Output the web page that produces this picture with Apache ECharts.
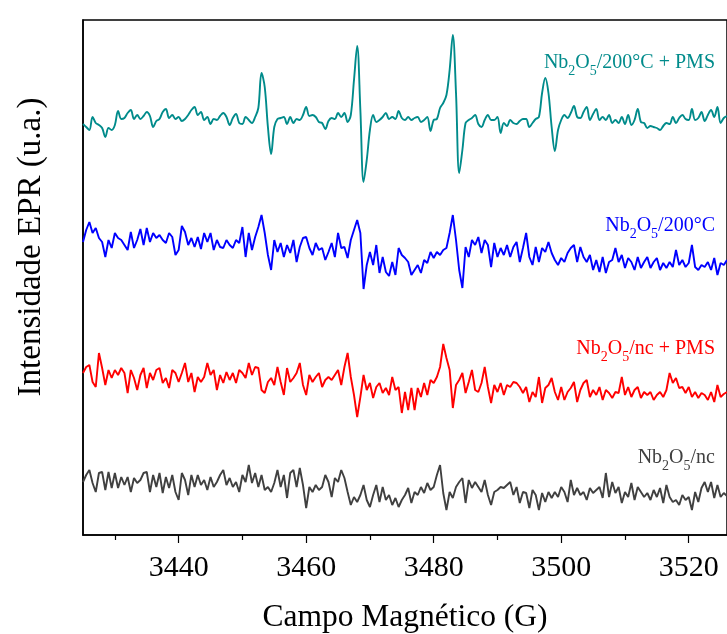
<!DOCTYPE html>
<html>
<head>
<meta charset="utf-8">
<script src="https://cdn.jsdelivr.net/npm/echarts@6/dist/echarts.min.js"></script>
<style>
  html, body { margin: 0; padding: 0; background: #fff; }
  #chart { width: 727px; height: 634px; }
</style>
</head>
<body>
<div id="chart"></div>
<script>
// campo magnético (G): primeiro ponto e passo
const fieldStart = 3425;
const fieldStep = 0.5;

const majorTicks = [3440, 3460, 3480, 3500, 3520];
const minorTicks = [3430, 3450, 3470, 3490, 3510];

// deslocamento vertical de cada espectro (u.a.)
const traceOffsets = [415, 295, 163, 57];
const traceColors = ['#008b8b', '#0000ff', '#ff0000', '#404040'];

// Nb2O5/200°C + PMS
const tealSignal = [
  -4, -7, -10, 3, -3, -5, -8, -17, -8, -10,
  -5, 9, 1, 2, 7, 10, 1, 5, 1, 4,
  8, 4, -7, -1, 1, 8, 11, 2, 5, 1,
  3, -1, 1, 5, 10, 13, 5, 8, 0, 3,
  -4, 1, 0, 4, 7, 3, -5, 2, 6, -3,
  -4, 3, 0, -3, 3, 12, 47, 33, -7, -34,
  -7, 1, 2, 3, -4, 3, -3, 1, 0, 5,
  13, 4, 5, 3, -2, -3, -9, -1, 2, 1,
  7, 3, 7, -2, 5, 40, 74, 10, -62, -40,
  -10, 5, -2, 0, 3, 7, 1, 3, 1, 9,
  2, 0, 3, 0, 2, 3, -2, 0, 3, -11,
  0, 1, 12, 17, 25, 50, 85, 27, -53, -30,
  -3, 0, 2, 5, -4, -7, 0, 5, 0, 0,
  3, -13, -3, -6, 0, -3, -4, -1, 1, 1,
  -7, -3, 1, 3, 27, 42, 27, -7, -31, -10,
  0, 5, 2, 7, 14, 3, 2, 8, 13, 0,
  6, 11, 0, 3, 0, 5, -3, 0, -3, 3,
  -4, 5, -5, 0, 11, -2, -3, -8, -6, -7,
  -8, -10, -6, -3, -4, 3, -3, 2, 5, 1,
  0, 11, 0, 2, 8, -1, 5, 10, 3, 13,
  -3, 2, 4
];

// Nb2O5/200°C
const blueSignal = [
  -2, 10, 18, 7, 12, 2, -2, -17, 0, -8,
  7, 2, 0, -5, -10, 8, -8, 0, 11, -5,
  12, -2, 7, 2, 5, 0, -3, 7, 3, -15,
  -10, 14, 8, -5, 2, -7, 3, -9, 7, -2,
  7, -10, 0, -7, -8, 0, -5, -8, 0, -3,
  13, -17, 7, -10, 3, 13, 25, 7, -15, -30,
  0, -12, -3, -17, -5, -13, 0, -22, -7, 2,
  3, -8, -15, -3, -10, -8, -20, -12, -3, -17,
  7, -8, -7, -18, 0, 10, 20, 7, -49, -25,
  -12, -25, -5, -33, -17, -32, -36, -22, -35, -8,
  -15, -18, -22, -35, -30, -25, -33, -20, -23, -12,
  -18, -12, -15, -10, -8, 7, 25, 0, -30, -48,
  -7, -17, 0, -5, 3, -13, 0, -5, -27, -3,
  -17, -8, -15, -5, -17, -7, -2, -22, -8, 7,
  -17, -25, -7, -22, -8, -12, -2, -13, -20, -25,
  -18, -22, -13, -8, -5, -22, -7, -17, -22, -15,
  -30, -20, -32, -17, -33, -22, -20, -8, -22, -15,
  -28, -18, -22, -30, -17, -28, -22, -17, -28, -22,
  -18, -30, -23, -28, -22, -27, -10, -25, -20, -27,
  -23, -5, -27, -30, -25, -27, -22, -30, -18, -35,
  -23, -25, -20
];

// Nb2O5/nc + PMS
const redSignal = [
  -1, 5, 7, -10, -15, 19, 4, -13, 2, -6,
  2, -3, 4, -1, -21, 2, -6, -18, -3, 4,
  -16, -1, -8, 2, 4, -11, -6, -16, 2, -1,
  -10, -1, 9, -10, -1, -20, -5, -10, -5, 9,
  -3, 2, -18, -3, -11, 0, -8, -1, -11, 2,
  -1, -6, 9, -3, 5, 4, -18, -21, -10, -6,
  -13, 5, -10, -23, 4, -10, -6, -1, 9, -13,
  -23, -3, -10, -5, -1, -15, -8, -5, -8, -3,
  2, -13, 5, 19, -5, -23, -45, -25, -3, -18,
  -11, -26, -15, -11, -21, -16, -23, -5, -18, -15,
  -41, -20, -38, -16, -38, -16, -25, -11, -23, -8,
  -11, -5, 5, 28, 14, 2, -36, -13, -8, -1,
  -21, -10, 2, -18, -20, -11, 5, -15, -31, -13,
  -20, -11, -23, -13, -15, -10, -11, -15, -21, -15,
  -30, -20, -25, -5, -31, -16, -13, -6, -20, -28,
  -15, -28, -20, -16, -10, -30, -18, -11, -8, -25,
  -18, -23, -15, -28, -18, -21, -26, -20, -21, -5,
  -23, -15, -25, -18, -15, -26, -20, -23, -20, -28,
  -23, -20, -25, -18, -1, -11, -6, -16, -15, -21,
  -15, -25, -20, -26, -21, -23, -28, -20, -30, -13,
  -25, -22, -20
];

// Nb2O5/nc
const graySignal = [
  -4, 3, 8, -5, -14, 5, 6, -12, 6, -10,
  5, -10, 1, -7, 1, -14, 0, -5, -2, 5,
  6, -14, 3, -9, 5, -15, 1, -10, 3, -14,
  -22, 5, -2, -17, 3, -9, 3, -7, -2, -12,
  1, -9, -4, 3, 8, -7, 0, -9, -4, -14,
  3, -4, 13, -5, 5, -9, 3, -12, -9, -14,
  -5, 8, -9, 3, -20, 5, 8, -9, 10, -7,
  -30, -9, -14, -7, -12, -9, 3, -4, -19, 0,
  -4, 8, 0, -14, -27, -19, -24, -17, -7, -22,
  -29, -17, -7, -24, -9, -22, -17, -27, -20, -29,
  -22, -17, -10, -25, -14, -17, -9, -15, -5, -12,
  -9, 3, 13, -15, -32, -14, -20, -9, -4, 0,
  -25, -2, -10, -4, -9, -14, -2, -17, -27, -14,
  -12, -9, -10, -7, -4, -17, -9, -25, -14, -15,
  -30, -12, -17, -32, -15, -24, -14, -20, -14, -19,
  -9, -14, -24, -2, -17, -10, -17, -14, -22, -10,
  -15, -12, -9, -20, 5, -19, -4, -15, -9, -25,
  -14, -19, -5, -22, -9, -14, -19, -15, -22, -12,
  -19, -10, -25, -7, -19, -24, -22, -27, -17, -22,
  -19, -32, -14, -24, -10, -4, -14, -4, -20, -7,
  -19, -15, -18
];

const traces = [tealSignal, blueSignal, redSignal, graySignal];
// o espectro de cima é mais suave
const traceSmooth = [0.35, 0, 0, 0];

// rótulos: texto depois de Nb2O5 e posição y
const traceLabels = ['/200°C + PMS', '/200°C', '/nc + PMS', '/nc'];
const labelY = [63, 226, 349, 458];

const serif = "'Liberation Serif', 'Times New Roman', serif";

let chart = echarts.init(document.getElementById('chart'));

let series = traces.map((values, k) => ({
  type: 'line',
  xAxisIndex: 0,
  showSymbol: false,
  silent: true,
  smooth: traceSmooth[k],
  data: values.map((v, i) => [fieldStart + i * fieldStep, traceOffsets[k] + v]),
  lineStyle: { color: traceColors[k], width: 1.9 },
  itemStyle: { color: traceColors[k] }
}));

let labels = traceLabels.map((t, k) => ({
  type: 'text',
  x: 715,
  y: labelY[k],
  style: {
    text: '{n|Nb}{s|2}{n|O}{s|5}{n|' + t + '}',
    fill: traceColors[k],
    align: 'right',
    verticalAlign: 'middle',
    rich: {
      n: { fontFamily: serif, fontSize: 20, lineHeight: 30, fill: traceColors[k] },
      s: { fontFamily: serif, fontSize: 14, lineHeight: 12, verticalAlign: 'bottom', fill: traceColors[k] }
    }
  }
}));

let option = {
  animation: false,
  backgroundColor: '#fff',
  grid: {
    left: 83,
    top: 20,
    width: 651.5,
    height: 515,
    show: true,
    borderColor: '#000',
    borderWidth: 1.5
  },
  xAxis: [
    {
      type: 'value',
      min: 3425,
      max: 3526,
      position: 'bottom',
      splitLine: { show: false },
      axisLine: { show: true, lineStyle: { color: '#000', width: 1.5 } },
      axisTick: { show: true, customValues: majorTicks, length: 8, lineStyle: { color: '#000', width: 1.2 } },
      axisLabel: {
        customValues: majorTicks,
        margin: 18,
        color: '#000',
        fontFamily: serif,
        fontSize: 30,
        formatter: (v) => String(v)
      }
    },
    {
      type: 'value',
      min: 3425,
      max: 3526,
      position: 'bottom',
      splitLine: { show: false },
      axisLine: { show: false },
      axisTick: { show: true, customValues: minorTicks, length: 5, lineStyle: { color: '#000', width: 1.2 } },
      axisLabel: { show: false }
    }
  ],
  yAxis: {
    type: 'value',
    min: 0,
    max: 515,
    splitLine: { show: false },
    axisLine: { show: true, lineStyle: { color: '#000', width: 1.5 } },
    axisTick: { show: false },
    axisLabel: { show: false }
  },
  graphic: [
    {
      type: 'text',
      x: 31,
      y: 247,
      rotation: Math.PI / 2,
      style: {
        text: 'Intensidade EPR (u.a.)',
        fill: '#000',
        font: '33px ' + serif,
        align: 'center',
        verticalAlign: 'middle'
      }
    },
    {
      type: 'text',
      x: 405,
      y: 618,
      style: {
        text: 'Campo Magnético (G)',
        fill: '#000',
        font: '31.5px ' + serif,
        align: 'center',
        verticalAlign: 'middle'
      }
    }
  ].concat(labels),
  series: series
};

chart.setOption(option);
</script>
</body>
</html>
